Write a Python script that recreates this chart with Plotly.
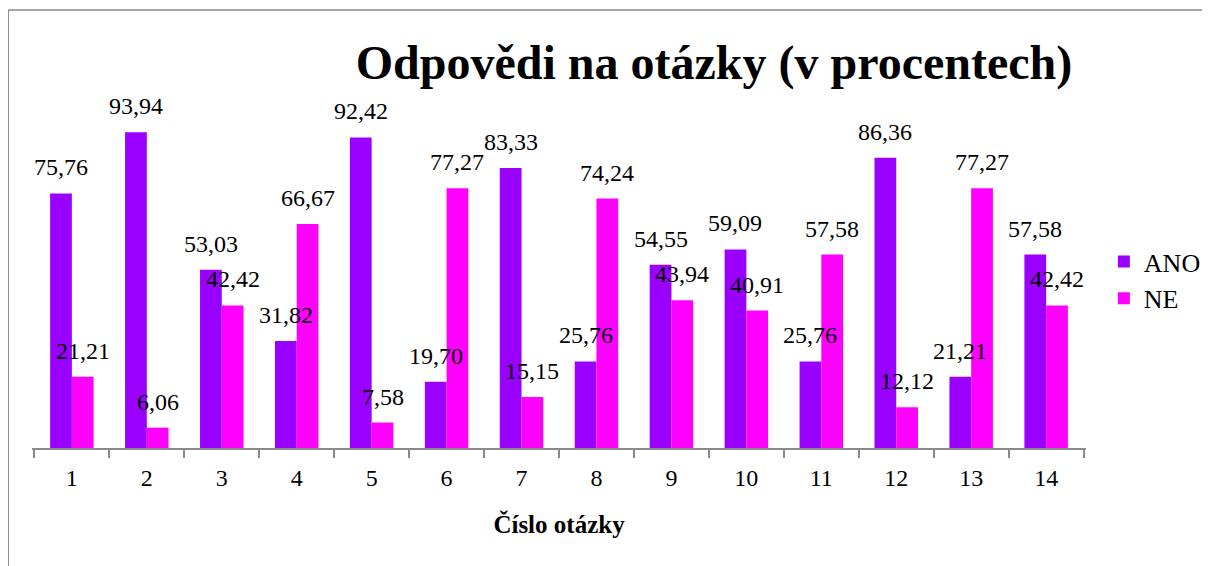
import plotly.graph_objects as go

categories = [str(i) for i in range(1, 15)]
ano = [75.76, 93.94, 53.03, 31.82, 92.42, 19.70, 83.33, 25.76, 54.55, 59.09, 25.76, 86.36, 21.21, 57.58]
ne = [21.21, 6.06, 42.42, 66.67, 7.58, 77.27, 15.15, 74.24, 43.94, 40.91, 57.58, 12.12, 77.27, 42.42]

ANO_COLOR = "#9900FF"
NE_COLOR = "#FF00FF"
FONT = "Liberation Serif"
BW = 0.29

W, H = 1210, 566
OFF = 8  # page body margin offset
L, R, T, B = 32 - OFF, W - (1095 - OFF), 112 - OFF, H - (448 - OFF)

fig = go.Figure()
fig.add_bar(x=categories, y=ano, name="ANO", marker_color=ANO_COLOR, width=BW, offset=-BW,
            marker_line_width=0)
fig.add_bar(x=categories, y=ne, name="NE", marker_color=NE_COLOR, width=BW, offset=0,
            marker_line_width=0)

def fmt(v):
    return f"{v:.2f}".replace(".", ",")

annotations = []
for i, (a, n) in enumerate(zip(ano, ne)):
    annotations.append(dict(x=i - BW / 2, y=a, xref="x", yref="y", text=fmt(a), showarrow=False,
                            yanchor="bottom", yshift=11, font=dict(family=FONT, size=24, color="black")))
    annotations.append(dict(x=i + BW / 2, y=n, xref="x", yref="y", text=fmt(n), showarrow=False,
                            yanchor="bottom", yshift=11, font=dict(family=FONT, size=24, color="black")))

pw = W - L - R
ph = H - T - B
def px_x(p):
    return (p - OFF - L) / pw
def px_y(p):
    return (H - B - (p - OFF)) / ph

shapes = [
    dict(type="line", xref="paper", yref="paper", x0=px_x(8), x1=px_x(1225), y0=px_y(10), y1=px_y(10),
         line=dict(color="#8a8a8a", width=1.5)),
    dict(type="line", xref="paper", yref="paper", x0=px_x(8), x1=px_x(8), y0=px_y(10), y1=px_y(580),
         line=dict(color="#8a8a8a", width=1.5)),
]

fig.update_layout(
    width=W, height=H,
    margin=dict(l=L, r=R, t=T, b=B),
    paper_bgcolor="white", plot_bgcolor="white",
    barmode="group",
    title=dict(text="<b>Odpovědi na otázky (v procentech)</b>", x=(714 - OFF) / W,
               xanchor="center", y=1 - (62 - OFF) / H, yanchor="middle",
               font=dict(family=FONT, size=48, color="black")),
    font=dict(family=FONT, size=24, color="black"),
    xaxis=dict(showline=True, linecolor="#8a8a8a", linewidth=1.5, ticks="outside", tickson="boundaries",
               ticklen=8, tickcolor="#8a8a8a", tickwidth=1.5, showgrid=False, ticklabelstandoff=7,
               tickfont=dict(family=FONT, size=24, color="black"),
               title=dict(text="<b>Číslo otázky</b>", font=dict(family=FONT, size=25, color="black"), standoff=26)),
    yaxis=dict(range=[0, 100], visible=False, showgrid=False),
    legend=dict(x=px_x(1113), y=px_y(238), xanchor="left", yanchor="top",
                font=dict(family=FONT, size=26, color="black"), tracegroupgap=0,
                itemwidth=30, bgcolor="rgba(0,0,0,0)"),
    annotations=annotations,
    shapes=shapes,
)
for tr in fig.data:
    tr.cliponaxis = False

fig.write_html("out.html")
